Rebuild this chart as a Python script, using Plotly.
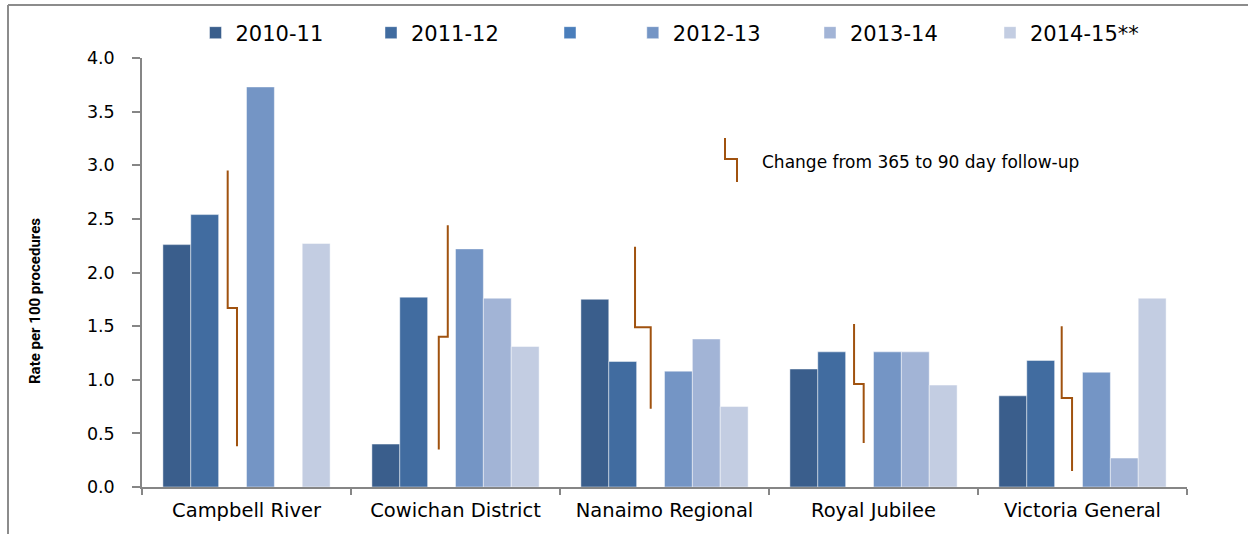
import plotly.graph_objects as go

# ---------------- data ----------------
categories = ["Campbell River", "Cowichan District", "Nanaimo Regional",
              "Royal Jubilee", "Victoria General"]
series_names = ["2010-11", "2011-12", " ", "2012-13", "2013-14", "2014-15**"]
v_2010_11 = [2.26, 0.40, 1.75, 1.10, 0.85]
v_2011_12 = [2.54, 1.77, 1.17, 1.26, 1.18]
v_blank = [None, None, None, None, None]
v_2012_13 = [3.73, 2.22, 1.08, 1.26, 1.07]
v_2013_14 = [None, 1.76, 1.38, 1.26, 0.27]
v_2014_15 = [2.27, 1.31, 0.75, 0.95, 1.76]
series_values = [v_2010_11, v_2011_12, v_blank, v_2012_13, v_2013_14, v_2014_15]

# follow-up change marker (step line) per hospital: top, step, bottom
change_top = [2.95, 2.44, 2.24, 1.52, 1.50]
change_step = [1.67, 1.40, 1.49, 0.96, 0.83]
change_bottom = [0.38, 0.35, 0.73, 0.41, 0.15]

y_ticks = [0.0, 0.5, 1.0, 1.5, 2.0, 2.5, 3.0, 3.5, 4.0]
y_title = "Rate per 100 procedures"
change_label = "Change from 365 to 90 day follow-up"

# ---------------- styles ----------------
colors = ["#3a5e8c", "#416ca0", "#4a7ebb", "#7495c5", "#a2b4d6", "#c3cde2"]
brown = "#a0520f"
FONT = "DejaVu Sans"

W, H = 1248, 534
L, R, T, B = 142, 61, 58, 47
PW, PH = W - L - R, H - T - B


def px(x):
    return (x - L) / PW


def py(y):
    return (H - B - y) / PH


fig = go.Figure()

legend_text_x = [235.5, 411, 590, 672.8, 850, 1030]
for i, (name, vals) in enumerate(zip(series_names, series_values)):
    lname = "legend" if i == 0 else f"legend{i + 1}"
    fig.add_trace(go.Bar(
        x=categories, y=vals, name=name,
        marker=dict(color=colors[i], line=dict(color="rgba(255,255,255,0.45)", width=1)),
        legend=lname, showlegend=True,
    ))

# step-line positions (offset from category centre, in category units)
off_upper = [-0.090, -0.037, -0.141, -0.093, -0.0995]
off_lower = [-0.0455, -0.080, -0.066, -0.047, -0.050]
lx, ly = [], []
for i in range(len(categories)):
    xu, xl = i + off_upper[i], i + off_lower[i]
    lx += [xu, xu, xl, xl, None]
    ly += [change_top[i], change_step[i], change_step[i], change_bottom[i], None]
fig.add_trace(go.Scatter(x=lx, y=ly, xaxis="x2", mode="lines",
                         line=dict(color=brown, width=2), showlegend=False,
                         hoverinfo="skip"))

layout = dict(
    width=W, height=H,
    margin=dict(l=L, r=R, t=T, b=B, autoexpand=False),
    paper_bgcolor="white", plot_bgcolor="white",
    barmode="group", bargap=0.2, bargroupgap=0,
    font=dict(family=FONT, color="#000000"),
    xaxis=dict(type="category", range=[-0.5, 4.5], showgrid=False,
               showline=True, linecolor="#868686", linewidth=1.5,
               ticks="outside", tickson="boundaries", ticklen=6,
               tickcolor="#868686", tickwidth=1.5, ticklabelstandoff=5,
               tickfont=dict(size=19.5, family=FONT), automargin=False),
    xaxis2=dict(overlaying="x", range=[-0.5, 4.5], visible=False),
    yaxis=dict(range=[0, 4], tickvals=y_ticks, tickformat=".1f",
               showgrid=False, zeroline=False, showline=True,
               linecolor="#868686", linewidth=1.5, ticks="outside",
               ticklen=8, tickcolor="#868686", tickwidth=1.5,
               tickfont=dict(size=17.5, family=FONT), ticklabelstandoff=14,
               automargin=False),
    showlegend=True,
)
for i, tx in enumerate(legend_text_x):
    lname = "legend" if i == 0 else f"legend{i + 1}"
    layout[lname] = dict(orientation="h", x=px(tx - 40), xanchor="left",
                         y=py(33), yanchor="middle", bgcolor="rgba(0,0,0,0)",
                         font=dict(size=21, family=FONT, color="#000000"),
                         itemclick=False, itemdoubleclick=False)
fig.update_layout(**layout)

# axis title
fig.add_annotation(text="<b>" + y_title + "</b>", xref="paper", yref="paper",
                   x=px(35), y=py(301), textangle=-90, showarrow=False,
                   font=dict(size=15, family="Roboto"),
                   xanchor="center", yanchor="middle")
# legend for change marker
fig.add_annotation(text=change_label, xref="paper", yref="paper",
                   x=px(760), y=py(162), xanchor="left", yanchor="middle",
                   showarrow=False, font=dict(size=17, family=FONT))
fig.add_shape(type="path", xref="paper", yref="paper",
              path=f"M{px(725)},{py(138)} L{px(725)},{py(159)} L{px(737)},{py(159)} L{px(737)},{py(182)}",
              line=dict(color=brown, width=2))
# outer frame (top and left)
fig.add_shape(type="line", xref="paper", yref="paper", x0=px(8), x1=px(1250),
              y0=py(5), y1=py(5), line=dict(color="#8c8c8c", width=2))
fig.add_shape(type="line", xref="paper", yref="paper", x0=px(8), x1=px(8),
              y0=py(5), y1=py(540), line=dict(color="#8c8c8c", width=2))

fig.write_html("out.html")
